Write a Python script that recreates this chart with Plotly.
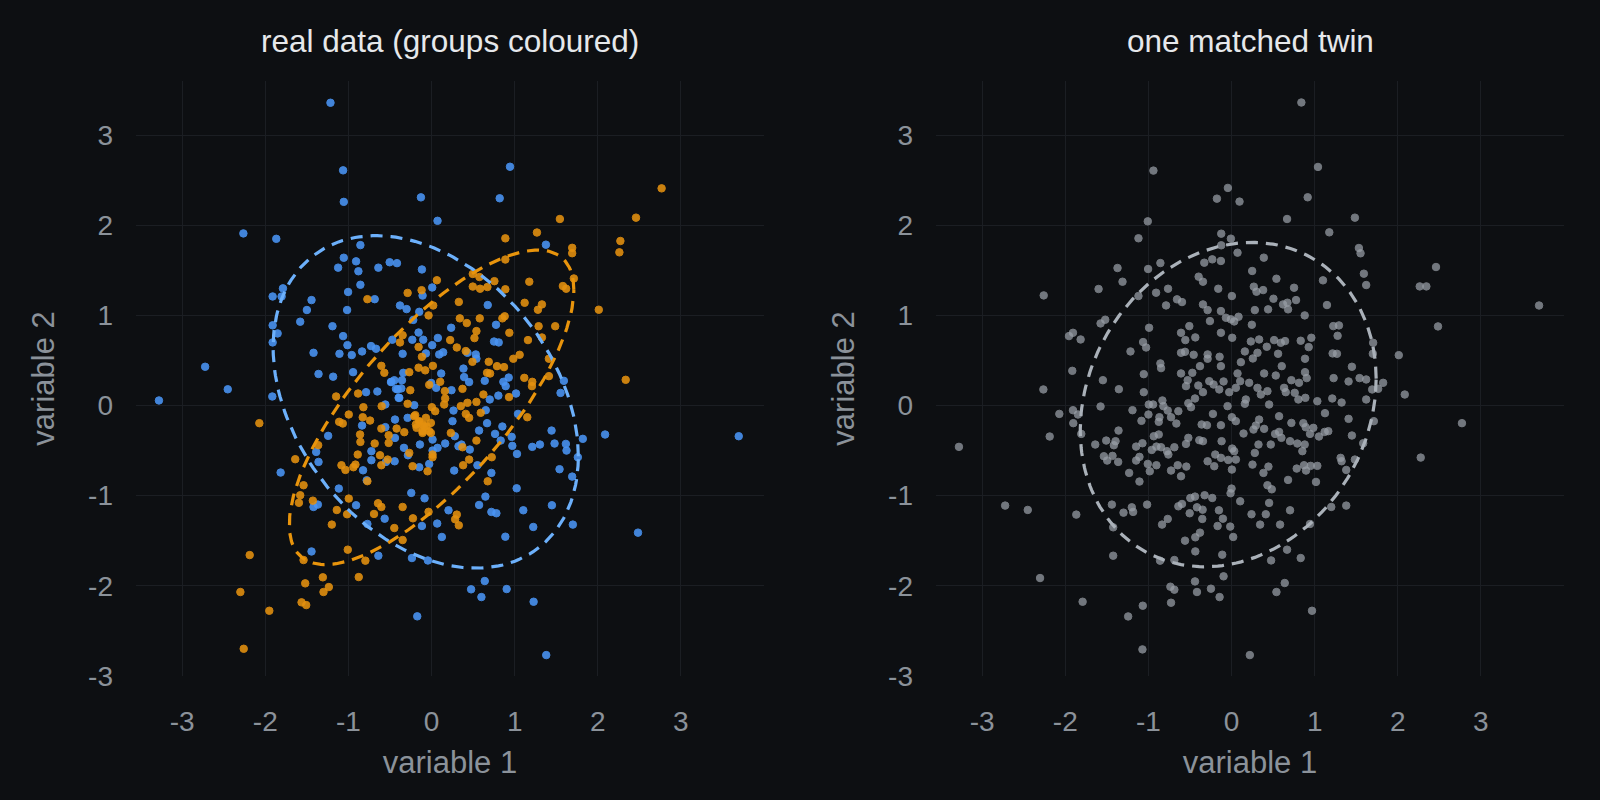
import numpy as np
import plotly.graph_objects as go

# ---- data ------------------------------------------------------------------
blue_x = [
    -1.216, -1.064, -1.056, -0.128, 0.072, -2.264, -1.868, -0.856, -1.056, -1.124,
    -0.908, -0.88, -0.64, -0.504, -0.416, -0.116, -0.856, 0.008, -1.788, -1.912,
    -1.804, -1.444, -1.004, -0.684, -0.108, -1.50, -1.016, -0.38, -0.30, -0.148,
    -0.22, -1.58, -1.912, -1.852, -1.912, -1.192, -1.064, -1.012, -0.728, -0.668,
    -0.472, -0.232, -0.156, -0.10, 0.008, 0.076, -1.42, -1.108, -0.96, -0.836,
    -0.348, -0.068, -2.724, -2.452, -1.36, -1.184, -0.944, -0.34, -0.484, -0.448,
    -0.356, -0.428, -0.364, -0.788, -0.652, -0.004, 0.056, -1.916,
    0.944, 0.82, 1.376, 0.676, 0.236, 0.776, 0.752, 0.808, 0.14, 0.092,
    0.432, 0.532, 0.54, 0.116, 0.384, 0.392, 0.452, 0.64, 0.864, 0.892,
    0.928, 0.24, 1.592, 1.552, 1.016, 0.804,
    -3.28, -0.396, -0.208, -0.556, -0.836, -0.556, -0.288, -0.44, -0.44, -1.244,
    -0.724, -1.388, -1.36, -0.724, -0.548, -0.444, -0.332, -0.284, -0.14, 0.012,
    -0.028, -0.148, -0.824, -0.78, -1.816, -1.116, -1.42, -1.368, -0.908, -0.772,
    -0.564, -0.244, -0.084, -0.116, 0.068, -1.444, -0.64, -0.236, -0.044, -0.172,
    0.70, 0.264, 0.252, 0.652, 1.04, 0.668, 0.572, 0.764, 0.852, 0.964,
    0.832, 0.972, 1.028, 1.444, 1.48, 1.616, 1.624, 1.82, 2.088, 3.696,
    1.212, 1.304, 1.76, 1.54, 1.692, 0.28, 0.164, 0.324, 0.36, 0.46,
    0.012, 0.072, 0.272, 0.72, 0.552, 1.024, 0.648, 0.572, 0.204, 0.72,
    0.78, 1.104, 1.448, 1.224, 1.70, 2.484, 0.124, 0.888, 0.64, 0.476,
    0.60, 0.904, 1.228, 1.38,
    -0.488, -0.408, -0.388,
]
blue_y = [
    3.36, 2.61, 2.26, 2.31, 2.05, 1.91, 1.85, 1.78, 1.64, 1.53,
    1.60, 1.49, 1.53, 1.59, 1.58, 1.51, 1.34, 1.31, 1.30, 1.21,
    1.21, 1.17, 1.26, 1.18, 1.22, 1.06, 1.06, 1.11, 1.07, 1.04,
    0.95, 0.93, 0.89, 0.80, 0.70, 0.88, 0.77, 0.67, 0.66, 0.63,
    0.73, 0.73, 0.81, 0.73, 0.67, 0.75, 0.585, 0.574, 0.56, 0.60,
    0.574, 0.578, 0.43, 0.18, 0.35, 0.32, 0.37, 0.363, 0.263, 0.28,
    0.28, 0.185, 0.19, 0.148, 0.156, 0.25, 0.196, 0.10,
    2.65, 2.30, 1.785, 1.115, 0.863, 0.896, 0.71, 0.70, 0.59, 0.567,
    0.585, 0.567, 0.52, 0.355, 0.41, 0.315, 0.26, 0.274, 0.263, 0.215,
    0.31, 0.17, 0.274, 0.14, 0.133, 0.11,
    0.056, 0.085, 0.004, 0.011, -0.222, -0.24, -0.137, -0.156, -0.36, -0.337,
    -0.507, -0.515, -0.626, -0.607, -0.626, -0.619, -0.47, -0.552, -0.433, -0.378,
    -0.648, -0.685, -0.719, -0.83, -0.744, -0.922, -1.126, -1.10, -1.107, -1.315,
    -1.256, -0.97, -1.03, -1.337, -1.31, -1.62, -1.667, -1.693, -1.72, -2.34,
    0.067, -0.056, -0.174, -0.052, -0.093, -0.196, -0.278, -0.315, -0.233, -0.348,
    -0.389, -0.448, -0.537, -0.278, -0.422, -0.426, -0.50, -0.37, -0.322, -0.341,
    -0.459, -0.433, -0.574, -0.707, -0.789, -0.341, -0.422, -0.452, -0.433, -0.489,
    -0.50, -0.47, -0.722, -0.748, -0.663, -0.919, -1.011, -1.104, -1.163, -1.181,
    -1.196, -1.163, -1.107, -1.348, -1.322, -1.411, -1.459, -1.456, -1.948, -2.04,
    -2.126, -2.037, -2.178, -2.77,
    0.26, 0.178, 0.085,
]

orange_x = [
    0.064, -0.288, -0.12, 0.02, -0.036, -0.772, -0.348, -0.38, -0.156, -0.116,
    -0.156, -0.076, 0.016, -0.268, -0.604, -0.568, -0.028, -0.256, -0.884, -1.148,
    2.768, 2.46, 1.544, 1.268, 2.272, 2.26, 1.692, 1.692, 0.888, 0.888,
    1.712, 1.58, 1.62, 1.176, 0.496, 0.576, 0.496, 0.584, 0.672, 0.756,
    0.888, 0.328, 1.12, 1.28, 1.328, 2.012, 0.34, 0.424, 0.58, 0.852,
    0.88, 0.54, 0.516, 0.936, 1.288, 1.488, 1.328, 1.16, 0.224, 0.304,
    0.412, 1.06, 0.984, 1.412, 0.688, 0.788, 0.872, 0.492, 0.668, 0.704,
    1.116, 1.212, 1.208, 1.412, 2.336, 0.104, 0.372, 0.16, 0.624,
    -2.072, -0.996, -1.112, -1.068, -0.82, -0.828, -0.74, -0.6, -0.604, -0.86,
    -0.856, -0.684, -0.516, -0.516, -0.42, -0.328, -0.288, -0.196, -0.148, -0.108,
    -0.06, -0.188, -0.108, 0.004, 0.044, -0.008, 0.012, -0.268, -0.228, -0.048,
    -0.888, -0.62, -0.604, -0.528, -1.084, -1.036, -0.94, -0.916, -0.772, -1.364,
    -1.64, -1.54, -1.58, -1.596, -1.428, -0.996, -1.14, -1.016, -0.644, -0.604,
    -0.692, -0.348, -0.224, -0.448, -0.348, -0.036, -1.2, -2.188, -1.54, -1.008,
    -0.796, -0.876, -1.308, -1.52, -1.236, -1.30, -1.564, -1.508, -2.30, -1.952,
    -2.26,
    0.164, 0.152, 0.352, 0.432, 0.54, 0.412, 0.452, 0.592, 0.932, 1.152,
    0.232, 0.54, 0.372, 0.012, 0.452, 0.724, 0.38, 0.676, 0.304, 0.284,
    0.328,
    -0.208, -0.148, -0.088, -0.028, -0.108, -0.18, -0.008, -0.068,
]
orange_y = [
    1.39, 1.25, 1.28, 1.11, 1.00, 1.18, 0.78, 0.70, 0.65, 0.54,
    0.42, 0.39, 0.44, 0.37, 0.44, 0.363, 0.23, 0.17, 0.133, 0.10,
    2.41, 2.085, 2.07, 1.92, 1.826, 1.70, 1.75, 1.69, 1.855, 1.62,
    1.41, 1.326, 1.296, 1.374, 1.46, 1.426, 1.32, 1.296, 1.315, 1.38,
    1.29, 1.15, 1.14, 1.063, 1.122, 1.063, 0.967, 0.915, 0.967, 0.967,
    0.99, 0.826, 0.748, 0.807, 0.88, 0.88, 0.755, 0.726, 0.726, 0.644,
    0.604, 0.563, 0.519, 0.519, 0.485, 0.437, 0.426, 0.485, 0.363, 0.355,
    0.307, 0.263, 0.215, 0.326, 0.285, 0.263, 0.185, 0.16, 0.122,
    -0.196, -0.1, -0.181, -0.2, -0.019, -0.13, -0.167, -0.007, -0.256, -0.322,
    -0.404, -0.422, -0.33, -0.415, -0.256, -0.296, 0.019, -0.107, -0.181, -0.211,
    -0.23, -0.211, -0.304, -0.019, -0.063, -0.304, -0.544, -0.526, -0.674, -0.73,
    -0.544, -0.552, -0.663, -0.6, -0.663, -0.715, -0.685, -0.656, -0.84, -0.44,
    -0.596, -0.885, -0.996, -1.08, -1.056, -1.033, -1.16, -1.207, -1.085, -1.126,
    -1.204, -1.126, -1.252, -1.36, -1.493, -1.18, -1.322, -1.66, -1.715, -1.6,
    -1.722, -1.904, -1.907, -1.974, -2.015, -2.07, -2.185, -2.215, -2.07, -2.278,
    -2.70,
    0.078, 0.011, -0.007, 0.03, 0.04, -0.093, -0.137, -0.081, 0.093, -0.13,
    -0.304, -0.389, -0.463, -0.574, -0.6, -0.574, -0.663, -0.841, -1.211, -1.263,
    -1.33,
    -0.12, -0.174, -0.23, -0.285, -0.285, -0.248, -0.193, -0.137,
]

twin_x = [
    -0.94, -0.176, -1.008, -1.12, -0.124, -0.124, -1.372, -1.004, -0.856, -0.328,
    -0.232, -0.128, -1.312, -1.6, -2.26, -1.12, -0.908, -0.764, -0.788, -0.656,
    -0.596, -0.396, -0.344, -0.16, -0.344, -0.288, -0.128, -0.26, -1.576, -1.52,
    -1.956, -1.908, -1.816, -0.992, -0.508, -0.608, -0.556, -0.436, -0.128, -1.064,
    -1.028, -1.216, -0.608, -0.56, -0.456, -0.288, -0.288, -0.144, -0.856, -0.848,
    -0.38, -0.128, -1.916, -1.548, -1.056, -0.608, -0.472, -0.528, -0.548, -0.4,
    -0.268, -0.216, -0.148, -2.264, -1.356, -1.056, -0.344,
    0.84, 1.04, 0.916, -0.044, 0.096, 0.668, 1.484, 1.176, -0.008, 0.072,
    1.532, 1.552, 0.388, 0.248, 0.54, 1.1, 1.592, 1.62, 2.46, 2.264,
    2.344, 0.268, 0.3, 0.38, 0.752, 0.004, 0.504, 0.62, 0.672, 0.776,
    0.68, 1.148, 0.28, 0.44, 0.88, -0.068, -0.008, 0.032, 0.084, 0.244,
    0.008, 1.224, 1.292, 1.276, 2.484, 0.232, 0.332, 0.424, 0.512, 0.592,
    0.644, 0.832, 0.96, 0.928, 0.56, 0.312, 0.16, 0.256, 0.112, 0.884,
    1.216, 1.268, 0.604, 1.704, 1.7, 2.012, 1.448, 0.072, 0.392, 0.532,
    0.884, 0.904, 0.72, 0.812, 1.228, 1.408, 1.54, 1.62, 1.824, -0.096,
    0.212, 0.104, 0.052, 0.312, 0.432, 0.632, 0.652, 0.76, 1.692, 1.764,
    2.084, -0.028, 3.7,
    -3.28, -2.072, -1.908, -1.848, -1.904, -2.188, -1.808, -1.576, -1.192, -0.996,
    -0.944, -0.832, -0.82, -0.768, -0.868, -0.876, -0.728, -0.664, -0.64, -1.0,
    -1.084, -0.52, -0.488, -0.44, -0.224, -0.36, -0.296, -0.128, -1.36, -1.508,
    -1.396, -1.416, -1.64, -1.536, -1.496, -1.432, -1.364, -1.232, -1.108, -1.148,
    -1.072, -1.148, -1.108, -1.008, -0.984, -0.904, -0.96, -0.904, -0.936, -0.876,
    -0.848, -0.776, -0.76, -0.688, -0.728, -0.648, -0.608, -0.544, -0.548, -0.52,
    -0.388, -0.344, -0.288, -0.208, -0.196, -0.12, -0.128, -2.724, -2.452, -1.868,
    -1.44, -1.3, -1.2, -1.184, -1.016, -1.424, -0.836, -0.768, -0.64, -0.596,
    -0.496, -0.44, -0.324, -0.232, -0.416, -0.348, -0.504, -0.352, -0.152, -0.168,
    -0.104, -0.38, -0.436, -0.56, -0.436, -1.424, -0.86, -0.688, -0.112, -2.304,
    -1.792, -1.068, -1.244, -1.072, -0.736, -0.688, -0.728, -0.44, -0.416, -0.248,
    -0.144, -0.096,
    2.772, 2.276, 1.62, 1.712, 1.324, 1.212, 1.032, 0.888, 0.804, 0.452,
    0.352, 0.16, 0.172, -0.048, 0.004, 0.052, 0.144, 0.264, 0.292, 0.332,
    0.392, 0.572, 0.72, 0.864, 0.892, 0.984, 0.944, 1.052, 1.12, 1.164,
    1.124, 1.408, 1.448, 1.584, 1.312, 1.324, 1.484, 1.38, 0.524, 0.572,
    0.6, 0.472, 0.324, 0.28, 0.704, 0.792, 0.88, 0.852, 0.008, 0.032,
    0.052, -0.04, 0.004, 0.252, 0.384, 0.444, 0.784, 0.872, 0.896, 0.952,
    1.032, 0.68, 1.016, 0.432, 0.484, 0.0, -0.012, 0.104, 0.452, -0.016,
    0.02, 0.24, 0.412, 0.344, 0.584, 0.704, 1.2, 1.38, 0.944, 0.668,
    0.832, 0.476, 0.64, 0.54, 0.968, 0.22,
]
twin_y = [
    2.607, 2.296, 2.044, 1.856, 1.907, 1.778, 1.526, 1.515, 1.581, 1.585,
    1.622, 1.604, 1.374, 1.293, 1.222, 1.215, 1.252, 1.296, 1.111, 1.178,
    1.148, 1.43, 1.374, 1.296, 1.122, 1.059, 1.048, 0.937, 0.911, 0.952,
    0.77, 0.807, 0.733, 0.863, 0.881, 0.807, 0.726, 0.756, 0.807, 0.704,
    0.644, 0.6, 0.585, 0.596, 0.563, 0.567, 0.519, 0.541, 0.467, 0.415,
    0.437, 0.437, 0.385, 0.281, 0.348, 0.356, 0.363, 0.281, 0.215, 0.222,
    0.27, 0.233, 0.178, 0.178, 0.181, 0.148, 0.148,
    3.363, 2.648, 2.311, 2.415, 2.263, 2.07, 2.085, 1.922, 1.852, 1.696,
    1.748, 1.689, 1.641, 1.493, 1.407, 1.389, 1.463, 1.337, 1.537, 1.322,
    1.322, 1.319, 1.263, 1.281, 1.307, 1.215, 1.185, 1.122, 1.141, 1.17,
    1.067, 1.115, 1.059, 1.067, 1.0, 0.974, 0.956, 0.933, 0.985, 0.896,
    0.752, 0.881, 0.889, 0.774, 0.878, 0.711, 0.733, 0.652, 0.726, 0.696,
    0.715, 0.719, 0.752, 0.648, 0.574, 0.585, 0.6, 0.522, 0.481, 0.519,
    0.578, 0.574, 0.437, 0.696, 0.574, 0.559, 0.43, 0.356, 0.356, 0.333,
    0.37, 0.304, 0.281, 0.252, 0.304, 0.267, 0.304, 0.289, 0.252, 0.267,
    0.252, 0.27, 0.196, 0.196, 0.159, 0.196, 0.148, 0.141, 0.178, 0.185,
    0.122, 0.148, 1.11,
    -0.459, -0.093, -0.052, -0.1, -0.196, -0.344, -0.315, -0.011, -0.052, 0.011,
    0.011, 0.056, -0.007, -0.056, -0.13, -0.181, -0.13, -0.2, -0.063, -0.1,
    -0.17, 0.026, -0.019, 0.078, -0.093, -0.211, -0.219, -0.219, -0.278, -0.389,
    -0.396, -0.441, -0.433, -0.563, -0.611, -0.559, -0.626, -0.748, -0.844, -0.456,
    -0.419, -0.611, -0.57, -0.648, -0.73, -0.663, -0.493, -0.456, -0.341, -0.322,
    -0.463, -0.507, -0.544, -0.463, -0.722, -0.663, -0.785, -0.678, -0.426, -0.359,
    -0.385, -0.396, -0.619, -0.674, -0.544, -0.396, -0.581, -1.111, -1.159, -1.211,
    -1.1, -1.189, -1.13, -1.181, -1.1, -1.352, -1.322, -1.259, -1.119, -1.093,
    -1.026, -1.011, -0.996, -1.026, -1.13, -1.156, -1.196, -1.259, -1.163, -1.337,
    -1.256, -1.411, -1.463, -1.5, -1.619, -1.667, -1.722, -1.715, -1.656, -1.915,
    -2.178, -2.222, -2.341, -2.707, -2.011, -2.044, -2.189, -1.952, -2.07, -2.033,
    -2.126, -1.896,
    -0.196, -0.578, 0.067, -0.174, 0.033, 0.078, 0.048, 0.085, 0.067, 0.011,
    0.122, 0.019, 0.067, -0.007, -0.13, -0.174, -0.311, -0.267, -0.222, -0.156,
    -0.259, -0.119, -0.193, -0.196, -0.241, -0.248, -0.315, -0.344, -0.293, -0.285,
    -0.085, -0.148, -0.333, -0.419, -0.581, -0.619, -0.6, -0.715, -0.315, -0.293,
    -0.359, -0.433, -0.433, -0.526, -0.396, -0.422, -0.433, -0.507, -0.478, -0.507,
    -0.6, -0.604, -0.711, -0.656, -0.748, -0.678, -0.7, -0.663, -0.722, -0.67,
    -0.67, -0.826, -0.848, -0.885, -0.93, -0.922, -0.974, -1.063, -1.081, -1.344,
    -1.459, -1.207, -1.207, -1.322, -1.322, -1.163, -1.126, -1.111, -1.315, -1.6,
    -1.693, -1.719, -1.97, -2.07, -2.278, -2.77,
]

tick_vals = [-3, -2, -1, 0, 1, 2, 3]
tick_text = ["-3", "-2", "-1", "0", "1", "2", "3"]

# ellipse summaries: centre, half-extent along x and y, correlation
blue_ell = dict(cx=-0.07, cy=0.04, sx=1.836, sy=1.845, rho=-0.327)
orange_ell = dict(cx=0.0, cy=-0.02, sx=1.712, sy=1.746, rho=0.746)
twin_ell = dict(cx=-0.04, cy=0.01, sx=1.78, sy=1.80, rho=0.16)

BG = "#0d0f12"
GRID = "#1b1e23"
TICK = "#8b929a"
FONT = "Liberation Sans, Arial, sans-serif"


def ellipse(e, n=200):
    t = np.linspace(0, 2 * np.pi, n)
    x = e["cx"] + e["sx"] * np.cos(t)
    y = e["cy"] + e["sy"] * (e["rho"] * np.cos(t) + np.sqrt(1 - e["rho"] ** 2) * np.sin(t))
    return x, y


def dots(x, y, color, opacity, xa, ya):
    return go.Scatter(
        x=x, y=y, mode="markers", xaxis=xa, yaxis=ya, hoverinfo="skip",
        marker=dict(size=7.5, color=color, opacity=opacity,
                    line=dict(width=1, color=color)),
    )


def ring(e, color, xa, ya):
    ex, ey = ellipse(e)
    return go.Scatter(
        x=ex, y=ey, mode="lines", xaxis=xa, yaxis=ya, hoverinfo="skip",
        line=dict(color=color, width=3.2, dash="12px,8px"),
    )


fig = go.Figure()
fig.add_trace(dots(blue_x, blue_y, "#4a95f5", 0.88, "x", "y"))
fig.add_trace(dots(orange_x, orange_y, "#e5910f", 0.88, "x", "y"))
fig.add_trace(ring(blue_ell, "#6cb0fb", "x", "y"))
fig.add_trace(ring(orange_ell, "#e8940c", "x", "y"))
fig.add_trace(dots(twin_x, twin_y, "#9aa0a8", 0.72, "x2", "y2"))
fig.add_trace(ring(twin_ell, "#aab1b9", "x2", "y2"))

axis = dict(
    range=[-3.556, 4.0], tickvals=tick_vals, ticktext=tick_text,
    gridcolor=GRID, gridwidth=1, zeroline=False, showline=False,
    tickfont=dict(size=28, color=TICK, family=FONT), ticklabelstandoff=26,
    title=dict(text="variable 1", font=dict(size=31, color=TICK, family=FONT), standoff=15),
)
yaxis = dict(
    range=[-3.0, 3.6], tickvals=tick_vals, ticktext=tick_text,
    gridcolor=GRID, gridwidth=1, zeroline=False, showline=False,
    tickfont=dict(size=28, color=TICK, family=FONT), ticklabelstandoff=22,
    title=dict(text="variable 2", font=dict(size=31, color=TICK, family=FONT), standoff=24),
)

fig.update_layout(
    width=1600, height=800,
    paper_bgcolor=BG, plot_bgcolor=BG,
    showlegend=False,
    margin=dict(l=0, r=0, t=0, b=0),
    xaxis=dict(axis, domain=[0.085, 0.4775], anchor="y"),
    yaxis=dict(yaxis, domain=[0.138, 0.8965], anchor="x"),
    xaxis2=dict(axis, domain=[0.585, 0.9775], anchor="y2"),
    yaxis2=dict(yaxis, domain=[0.138, 0.8965], anchor="x2"),
    annotations=[
        dict(text="real data (groups coloured)", x=0.28125, y=0.9475, xref="paper", yref="paper",
             showarrow=False, xanchor="center", yanchor="middle",
             font=dict(size=31.5, color="#e6e8eb", family=FONT)),
        dict(text="one matched twin", x=0.78125, y=0.9475, xref="paper", yref="paper",
             showarrow=False, xanchor="center", yanchor="middle",
             font=dict(size=31.5, color="#e6e8eb", family=FONT)),
    ],
)

fig.write_html(
    "out.html",
    config={"displayModeBar": False},
    post_script="document.body.style.margin='0';document.body.style.background='#0d0f12';",
)
